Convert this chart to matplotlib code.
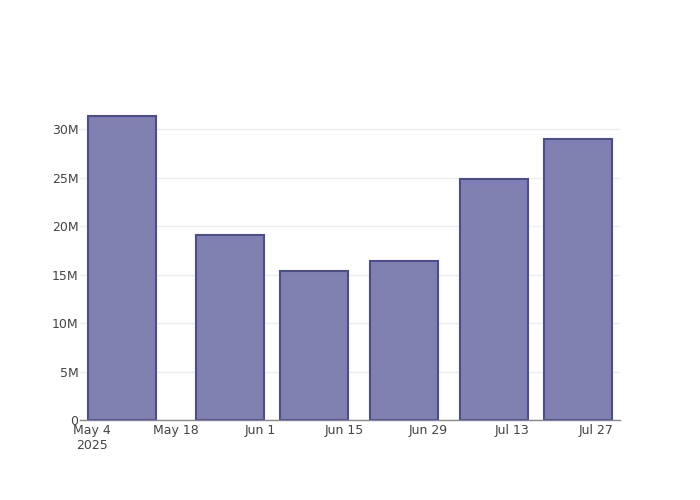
import numpy as np
import pandas as pd
import matplotlib.pyplot as plt
import matplotlib.dates as mdates
import matplotlib.ticker as mticker

# bar dates and values
dates = pd.to_datetime(["2025-05-09", "2025-05-27", "2025-06-10",
                        "2025-06-25", "2025-07-10", "2025-07-24"])
values = [31.3e6, 19.05e6, 15.35e6, 16.35e6, 24.85e6, 28.95e6]

tick_dates = pd.date_range("2025-05-04", "2025-07-27", freq="14D")
tick_labels = ["May 4\n2025", "May 18", "Jun 1", "Jun 15", "Jun 29", "Jul 13", "Jul 27"]

plt.rcParams['font.family'] = ['DejaVu Sans']

fig = plt.figure(figsize=(7, 5), dpi=100)
ax = fig.add_axes([80 / 700, 80 / 500, 540 / 700, 320 / 500])

x = mdates.date2num(dates)
width = 14 * 0.8
ax.bar(x, values, width=width, color="#8080b1", edgecolor="#4c4c94",
       linewidth=1.5, zorder=3)

ax.set_xlim(mdates.date2num(pd.Timestamp("2025-05-02")),
            mdates.date2num(pd.Timestamp("2025-07-31")))
ax.set_ylim(0, 33.0e6)

ax.set_xticks(mdates.date2num(tick_dates))
ax.set_xticklabels(tick_labels, fontsize=9, color="#444444")
for lbl in ax.get_xticklabels():
    lbl.set_multialignment("center")
ax.set_yticks(np.arange(0, 30.1e6, 5e6))
ax.yaxis.set_major_formatter(mticker.FuncFormatter(
    lambda v, p: "0" if v == 0 else f"{v / 1e6:.0f}M"))
ax.tick_params(axis="y", labelsize=9, colors="#444444", length=0, pad=1)
ax.tick_params(axis="x", length=0, pad=3)
for lbl in ax.get_yticklabels():
    lbl.set_color("#444444")

ax.grid(axis="y", color="#eeeeee", linewidth=1, zorder=0)
for s in ["top", "right", "left"]:
    ax.spines[s].set_visible(False)
ax.spines["bottom"].set_color("#888888")
ax.spines["bottom"].set_linewidth(1)
ax.spines["bottom"].set_zorder(4)

fig.savefig("out.png", dpi=100)
